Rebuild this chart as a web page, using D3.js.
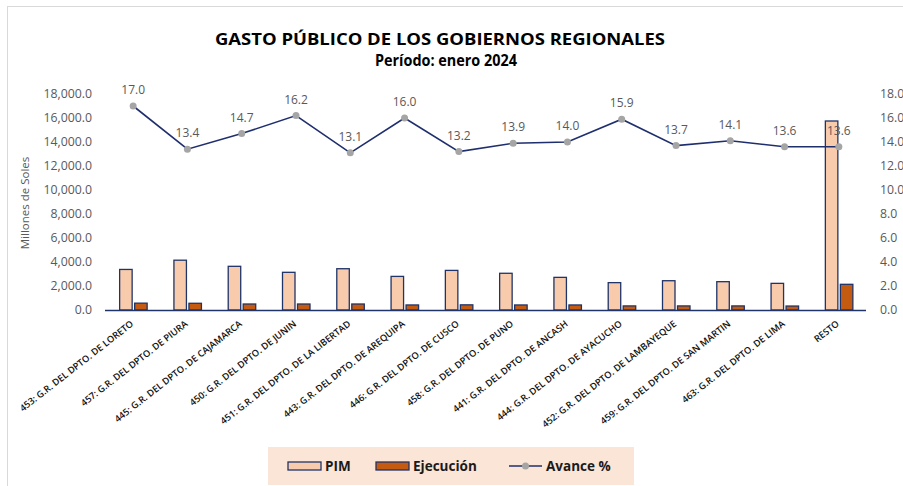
<!DOCTYPE html>
<html>
<head>
<meta charset="utf-8">
<script src="https://cdn.jsdelivr.net/npm/d3@7"></script>
<style>
  body { margin: 0; background: #fff; }
  svg { display: block; font-family: "Open Sans", "Liberation Sans", sans-serif; }
</style>
</head>
<body>
<svg></svg>
<script>
const categories = [
    "453: G.R. DEL DPTO. DE LORETO",
    "457: G.R. DEL DPTO. DE PIURA",
    "445: G.R. DEL DPTO. DE CAJAMARCA",
    "450: G.R. DEL DPTO. DE JUNIN",
    "451: G.R. DEL DPTO. DE LA LIBERTAD",
    "443: G.R. DEL DPTO. DE AREQUIPA",
    "446: G.R. DEL DPTO. DE CUSCO",
    "458: G.R. DEL DPTO. DE PUNO",
    "441: G.R. DEL DPTO. DE ANCASH",
    "444: G.R. DEL DPTO. DE AYACUCHO",
    "452: G.R. DEL DPTO. DE LAMBAYEQUE",
    "459: G.R. DEL DPTO. DE SAN MARTIN",
    "463: G.R. DEL DPTO. DE LIMA",
    "RESTO"
];
const pim = [3380, 4150, 3640, 3140, 3440, 2800, 3300, 3060, 2720, 2280, 2440, 2360, 2220, 15750];
const ejecucion = [570, 560, 500, 500, 500, 420, 430, 420, 420, 340, 340, 340, 330, 2140];
const avance = [17.0, 13.4, 14.7, 16.2, 13.1, 16.0, 13.2, 13.9, 14.0, 15.9, 13.7, 14.1, 13.6, 13.6];
const leftTicks = d3.range(0, 18001, 2000);
const rightTicks = d3.range(0, 18.1, 2);

const width = 903, height = 486;
const svg = d3.select("svg").attr("width", width).attr("height", height);

// chart frame
svg.append("rect")
    .attr("x", 7.5).attr("y", 6.5)
    .attr("width", 1000).attr("height", 1000)
    .attr("fill", "none").attr("stroke", "#d9d9d9");

const x0 = 106, x1 = 866, yTop = 94, yBot = 310;

const x = d3.scaleBand().domain(categories).range([x0, x1]);
const y = d3.scaleLinear().domain([0, 18000]).range([yBot, yTop]);
const y2 = d3.scaleLinear().domain([0, 18]).range([yBot, yTop]);

// title
svg.append("text")
    .attr("x", 440).attr("y", 45)
    .attr("text-anchor", "middle")
    .attr("font-size", 16).attr("font-weight", "bold").attr("fill", "#000")
    .attr("textLength", 450).attr("lengthAdjust", "spacingAndGlyphs")
    .text("GASTO PÚBLICO DE LOS GOBIERNOS REGIONALES");
svg.append("text")
    .attr("x", 446).attr("y", 66)
    .attr("text-anchor", "middle")
    .attr("font-size", 16).attr("font-weight", "bold").attr("fill", "#000")
    .attr("textLength", 142).attr("lengthAdjust", "spacingAndGlyphs")
    .text("Período:  enero 2024");

// left axis labels
const leftAxis = d3.axisLeft(y).tickValues(leftTicks).tickSize(0).tickPadding(0)
    .tickFormat(d3.format(",.1f"));
svg.append("g")
    .attr("transform", "translate(92,0)")
    .call(leftAxis)
    .call(g => g.select(".domain").remove())
    .selectAll("text")
    .attr("font-family", "Open Sans, sans-serif")
    .attr("font-size", 12.3).attr("fill", "#595959");

// right axis labels
const rightAxis = d3.axisRight(y2).tickValues(rightTicks).tickSize(0).tickPadding(0)
    .tickFormat(d3.format(".1f"));
svg.append("g")
    .attr("transform", "translate(880,0)")
    .call(rightAxis)
    .call(g => g.select(".domain").remove())
    .selectAll("text")
    .attr("font-family", "Open Sans, sans-serif")
    .attr("font-size", 12.3).attr("fill", "#595959");

// y axis title
svg.append("text")
    .attr("transform", "translate(29,203) rotate(-90)")
    .attr("text-anchor", "middle")
    .attr("font-size", 11.5).attr("fill", "#595959")
    .text("Millones de Soles");

// bars
const bw = 12.5;
const barStroke = "#1f3468";
const bars = svg.append("g");
bars.selectAll("rect.pim")
    .data(categories)
    .join("rect")
    .attr("class", "pim")
    .attr("x", d => x(d) + x.bandwidth() / 2 - 1 - bw)
    .attr("y", (d, i) => y(pim[i]))
    .attr("width", bw)
    .attr("height", (d, i) => yBot - y(pim[i]))
    .attr("fill", "#f8cbad")
    .attr("stroke", barStroke).attr("stroke-width", 1.3);
bars.selectAll("rect.ejec")
    .data(categories)
    .join("rect")
    .attr("class", "ejec")
    .attr("x", d => x(d) + x.bandwidth() / 2 + 1.5)
    .attr("y", (d, i) => y(ejecucion[i]))
    .attr("width", bw)
    .attr("height", (d, i) => yBot - y(ejecucion[i]))
    .attr("fill", "#c55a11")
    .attr("stroke", barStroke).attr("stroke-width", 1.3);

// baseline
svg.append("line")
    .attr("x1", x0 - 1).attr("x2", x1)
    .attr("y1", yBot + 0.5).attr("y2", yBot + 0.5)
    .attr("stroke", "#1f3468").attr("stroke-width", 1.5);

// category labels
svg.append("g")
    .selectAll("text")
    .data(categories)
    .join("text")
    .attr("transform", d => "translate(" + (x(d) + x.bandwidth() / 2 + 1) + "," + (yBot + 15) + ") rotate(-38)")
    .attr("text-anchor", "end")
    .attr("font-size", 9.3).attr("font-weight", 600).attr("fill", "#111")
    .text(d => d);

// avance line
const cx = d => x(d) + x.bandwidth() / 2;
const line = d3.line()
    .x((d, i) => cx(categories[i]))
    .y(d => y2(d));
svg.append("path")
    .datum(avance)
    .attr("d", line)
    .attr("fill", "none")
    .attr("stroke", "#1f2f6e").attr("stroke-width", 1.6);
svg.append("g")
    .selectAll("circle")
    .data(avance)
    .join("circle")
    .attr("cx", (d, i) => cx(categories[i]))
    .attr("cy", d => y2(d))
    .attr("r", 3.5)
    .attr("fill", "#a5a5a5");
svg.append("g")
    .selectAll("text")
    .data(avance)
    .join("text")
    .attr("x", (d, i) => cx(categories[i]))
    .attr("y", d => y2(d) - 12)
    .attr("text-anchor", "middle")
    .attr("font-size", 12).attr("fill", "#595959")
    .text(d => d3.format(".1f")(d));

// legend
const legend = svg.append("g");
legend.append("rect")
    .attr("x", 268).attr("y", 447)
    .attr("width", 366).attr("height", 38)
    .attr("fill", "#fbe5d6");
const items = [
    { label: "PIM", type: "bar", fill: "#f8cbad", x: 288 },
    { label: "Ejecución", type: "bar", fill: "#c55a11", x: 376 },
    { label: "Avance %", type: "line", x: 509 }
];
items.forEach(it => {
    if (it.type === "bar") {
        legend.append("rect")
            .attr("x", it.x).attr("y", 462)
            .attr("width", 33).attr("height", 8)
            .attr("fill", it.fill)
            .attr("stroke", barStroke).attr("stroke-width", 1.3);
    } else {
        legend.append("line")
            .attr("x1", it.x).attr("x2", it.x + 33)
            .attr("y1", 466).attr("y2", 466)
            .attr("stroke", "#1f2f6e").attr("stroke-width", 1.6);
        legend.append("circle")
            .attr("cx", it.x + 16.5).attr("cy", 466).attr("r", 3.5)
            .attr("fill", "#a5a5a5");
    }
    legend.append("text")
        .attr("x", it.x + 37).attr("y", 471)
        .attr("font-size", 13.5).attr("font-weight", "bold").attr("fill", "#1a1a1a")
        .text(it.label);
});
</script>
</body>
</html>
